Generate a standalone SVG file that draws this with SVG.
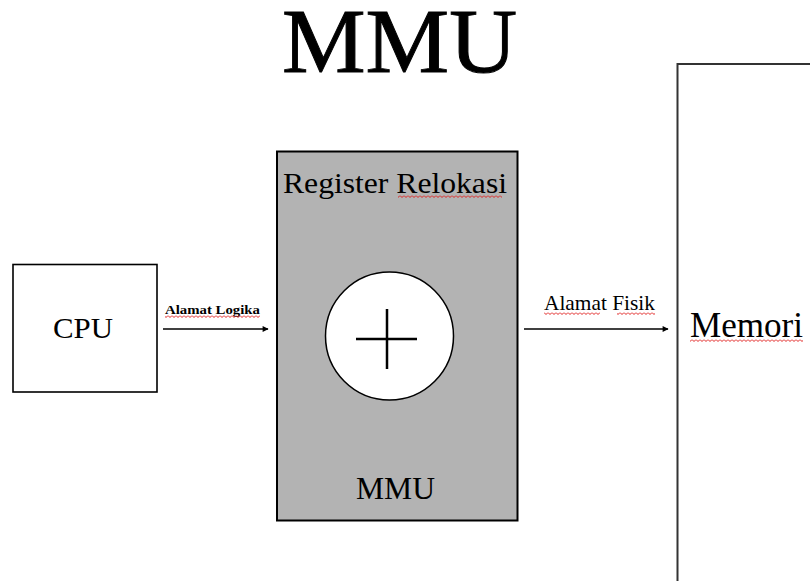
<svg xmlns="http://www.w3.org/2000/svg" width="810" height="581" viewBox="0 0 810 581" font-family="Liberation Serif, DejaVu Serif, serif">
  <style>
    .box { stroke: #000; }
    .wire { stroke: #000; stroke-width: 1.6; fill: none; }
  </style>
  <defs>
    <marker id="arrow" viewBox="0 0 10 10" refX="9" refY="5" markerWidth="7" markerHeight="6" markerUnits="userSpaceOnUse" orient="auto">
      <path d="M0 0 L10 5 L0 10 Z" fill="#000"/>
    </marker>
    <!-- red wavy spell-check underline -->
    <pattern id="squiggle" width="4" height="3" patternUnits="userSpaceOnUse">
      <path d="M0 0.5 L2 2.5 L4 0.5" fill="none" stroke="#e0201e" stroke-width="1"/>
    </pattern>
  </defs>

  <rect width="810" height="581" fill="#fff"/>

  <!-- title -->
  <text x="399.5" y="72" font-size="92" text-anchor="middle" textLength="235" lengthAdjust="spacingAndGlyphs" stroke="#000" stroke-width="1">MMU</text>

  <!-- memory block, running off the right and bottom edges -->
  <g id="memori">
    <rect x="677.5" y="64" width="150" height="540" fill="#fff" stroke="#333" stroke-width="2"/>
    <text x="690" y="337" font-size="35" textLength="113" lengthAdjust="spacingAndGlyphs">Memori</text>
    <rect x="690" y="339" width="113" height="3" fill="url(#squiggle)"/>
  </g>

  <!-- CPU -->
  <g id="cpu">
    <rect x="13" y="264.5" width="144" height="127.5" fill="#fff" class="box" stroke-width="1.6"/>
    <text x="83" y="338" font-size="30" text-anchor="middle" textLength="60" lengthAdjust="spacingAndGlyphs">CPU</text>
  </g>

  <!-- MMU unit -->
  <g id="mmu">
    <rect x="277" y="151.5" width="240.5" height="369" fill="#b3b3b3" class="box" stroke-width="2"/>
    <text x="283" y="193" font-size="30" textLength="224" lengthAdjust="spacingAndGlyphs">Register Relokasi</text>
    <rect x="398" y="195" width="104" height="3" fill="url(#squiggle)"/>
    <circle cx="389.5" cy="336" r="64" fill="#fff" stroke="#000" stroke-width="1.5"/>
    <path d="M356 339 H417 M387 309 V369" stroke="#000" stroke-width="2.5" fill="none"/>
    <text x="395.5" y="499" font-size="31" text-anchor="middle" textLength="79" lengthAdjust="spacingAndGlyphs">MMU</text>
  </g>

  <!-- connectors -->
  <g id="connectors">
    <line class="wire" x1="163" y1="329" x2="268" y2="329" marker-end="url(#arrow)"/>
    <text x="165" y="314" font-size="12" font-weight="bold" textLength="95" lengthAdjust="spacingAndGlyphs">Alamat Logika</text>
    <rect x="165" y="315" width="95" height="3" fill="url(#squiggle)"/>

    <line class="wire" x1="524" y1="329" x2="668" y2="329" marker-end="url(#arrow)"/>
    <text x="544" y="310" font-size="21" textLength="111" lengthAdjust="spacingAndGlyphs">Alamat Fisik</text>
    <rect x="544" y="312" width="56" height="3" fill="url(#squiggle)"/>
    <rect x="617" y="312" width="38" height="3" fill="url(#squiggle)"/>
  </g>
</svg>
